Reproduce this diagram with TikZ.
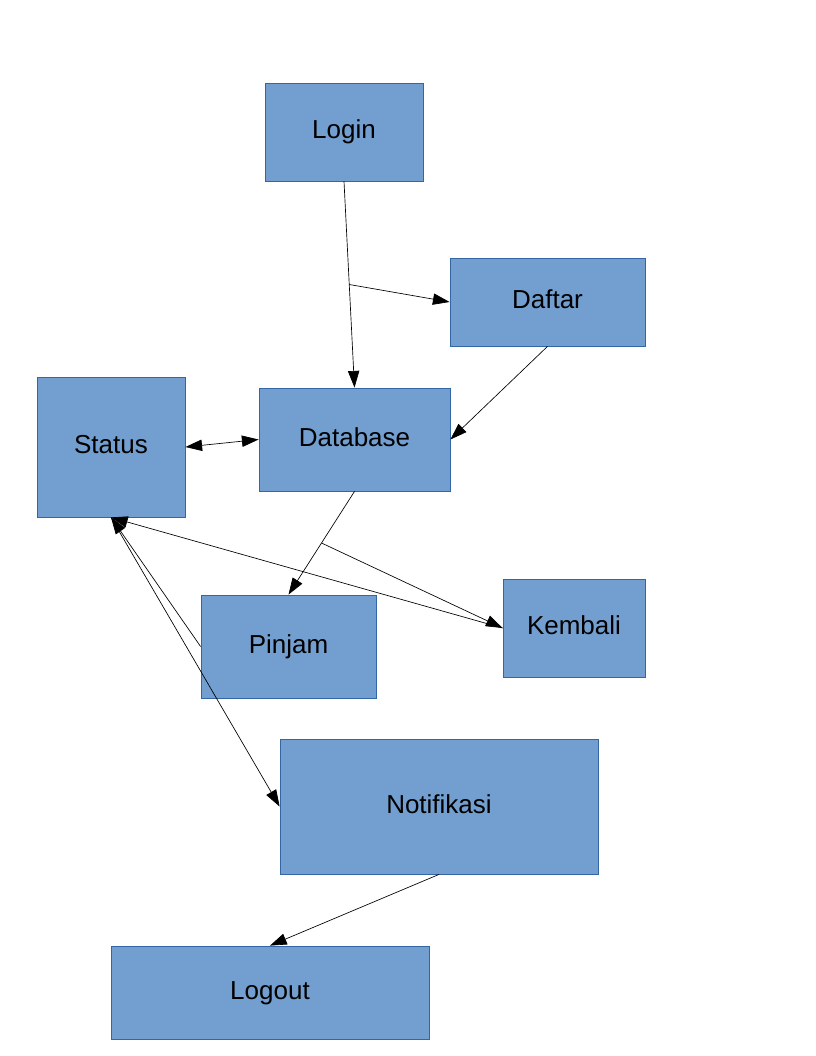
\documentclass[tikz,border=0pt]{standalone}
\usepackage{fontspec}
\setmainfont{Liberation Sans}
\usetikzlibrary{arrows.meta,calc}
\definecolor{boxfill}{HTML}{729FCF}
\definecolor{boxline}{HTML}{3465A4}
\begin{document}
\begin{tikzpicture}[x=0.75pt,y=-0.75pt,
  box/.style={draw=boxline,fill=boxfill,line width=0.6pt,inner sep=0pt,
    text height=14pt,text depth=3.8pt,
    font=\fontsize{19.5}{23}\selectfont},
  tip/.tip={Triangle[length=12.5pt,width=8.5pt]},
  conn/.style={draw=black,line width=0.5pt,-tip},
  both/.style={draw=black,line width=0.5pt,tip-tip}]
\useasboundingbox (0,0) rectangle (816,1056);
\node[box,minimum width=158*0.75pt,minimum height=98*0.75pt] (login) at (344,132) {Login};
\node[box,minimum width=195*0.75pt,minimum height=88*0.75pt] (daftar) at (547.5,302) {Daftar};
\node[box,minimum width=148*0.75pt,minimum height=140*0.75pt] (status) at (111,447) {Status};
\node[box,minimum width=191*0.75pt,minimum height=103*0.75pt] (database) at (354.5,439.5) {Database};
\node[box,minimum width=175*0.75pt,minimum height=103*0.75pt] (pinjam) at (288.5,646.5) {Pinjam};
\node[box,minimum width=142*0.75pt,minimum height=98*0.75pt] (kembali) at (574,628) {Kembali};
\node[box,minimum width=318*0.75pt,minimum height=135*0.75pt] (notifikasi) at (439,806.5) {Notifikasi};
\node[box,minimum width=318*0.75pt,minimum height=93*0.75pt] (logout) at (270,992.5) {Logout};

\coordinate (b1) at ($(login.south)!0.5!(database.north)$);
\coordinate (b2) at ($(database.south)!0.5!(pinjam.north)$);

\draw[conn] (login.south) -- (database.north);
\draw[conn] (b1) -- (daftar.west);
\draw[conn] (daftar.south) -- (database.east);
\draw[both] (status.east) -- (database.west);
\draw[conn] (database.south) -- (pinjam.north);
\draw[conn] (b2) -- (kembali.west);
\draw[conn] (kembali.west) -- (status.south);
\draw[conn] (pinjam.west) -- (status.south);
\draw[conn] (status.south) -- (notifikasi.west);
\draw[conn] (notifikasi.south) -- (logout.north);
\end{tikzpicture}
\end{document}
